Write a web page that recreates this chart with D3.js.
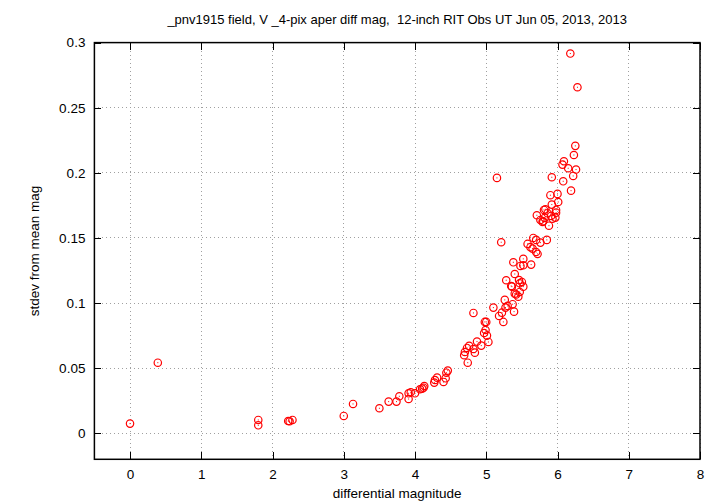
<!DOCTYPE html>
<html><head><meta charset="utf-8">
<script src="https://cdn.jsdelivr.net/npm/d3@7"></script>
<style>
html,body{margin:0;padding:0;background:#fff;}
text{font-family:"Liberation Sans",Arial,Helvetica,sans-serif;fill:#000;white-space:pre;}
</style></head>
<body><svg id="c" width="720" height="504"></svg>
<script>
const titleText = "_pnv1915 field, V _4-pix aper diff mag,  12-inch RIT Obs UT Jun 05, 2013, 2013";
const xLabel = "differential magnitude";
const yLabel = "stdev from mean mag";
const xTicks = [0,1,2,3,4,5,6,7,8];
const yTicks = [0,0.05,0.1,0.15,0.2,0.25,0.3];
const yTickLabels = ["0","0.05","0.1","0.15","0.2","0.25","0.3"];

const diffMag = [
 0.00,0.39,1.80,1.80,2.22,2.24,2.28,3.00,3.13,3.50,3.63,3.74,3.78,3.91,3.91,3.94,4.00,4.07,4.10,4.12,4.13,
 4.27,4.28,4.31,4.40,4.43,4.44,4.46,4.69,4.70,4.74,4.73,4.76,4.82,4.84,4.87,4.93,5.03,4.97,5.01,4.98,5.00,
 4.82,5.10,5.24,5.18,5.22,5.27,5.30,5.37,5.39,5.26,5.28,5.35,5.40,5.42,5.45,5.47,5.47,5.50,5.52,5.40,5.46,
 5.38,5.48,5.52,5.63,5.52,5.15,5.21,5.58,5.62,5.65,5.72,5.70,5.66,5.70,5.76,5.85,5.71,5.76,5.80,5.82,5.88,
 5.93,5.97,5.81,5.83,5.98,5.98,5.92,6.01,5.90,6.00,6.19,6.08,5.92,6.22,6.26,6.15,6.07,6.09,6.23,6.25,6.28,
 6.18,5.86,5.91,5.79,5.36,4.99
];
const stdev = [
 0.0074,0.0542,0.0102,0.0061,0.0094,0.0092,0.0102,0.0133,0.0225,0.0192,0.0243,0.0243,0.0284,0.0263,0.0307,0.0315,0.0307,0.0338,0.0343,0.0350,0.0363,
 0.0389,0.0409,0.0427,0.0394,0.0422,0.0465,0.0481,0.0599,0.0624,0.0542,0.0655,0.0671,0.0647,0.0619,0.0704,0.0673,0.0701,0.0770,0.0750,0.0855,0.0855,
 0.0924,0.0965,0.0855,0.0901,0.0926,0.0965,0.0978,0.0991,0.0934,0.1024,0.1175,0.1131,0.1072,0.1065,0.1049,0.1085,0.1152,0.1162,0.1126,0.1223,0.1177,
 0.1313,0.1285,0.1290,0.1295,0.1339,0.1961,0.1467,0.1454,0.1429,0.1418,0.1377,0.1392,0.1500,0.1485,0.1464,0.1485,0.1674,0.1638,0.1628,0.1654,0.1594,
 0.1648,0.1656,0.1715,0.1720,0.1715,0.1694,0.1756,0.1776,0.1828,0.1838,0.1863,0.1935,0.1966,0.1976,0.2025,0.2035,0.2063,0.2089,0.2137,0.2207,0.2657,
 0.2916,0.1690,0.1669,0.1623,0.1126,0.0793
];

const svg = d3.select("#c");
const L = 94.4, R = 700, T = 42.6, B = 459.3;
const x = d3.scaleLinear().domain([-0.5, 8]).range([L, R]);
const y = d3.scaleLinear().domain([-0.02, 0.3]).range([B, T]);

// grid
const g = svg.append("g");
g.selectAll("line.gx").data(xTicks).join("line")
 .attr("x1", d => x(d)).attr("x2", d => x(d)).attr("y1", T).attr("y2", B)
 .attr("stroke", "#a0a0a0").attr("stroke-width", 1).attr("stroke-dasharray", "1,3")
 .attr("shape-rendering","crispEdges");
g.selectAll("line.gy").data(yTicks).join("line")
 .attr("y1", d => y(d)).attr("y2", d => y(d)).attr("x1", L).attr("x2", R)
 .attr("stroke", "#a0a0a0").attr("stroke-width", 1).attr("stroke-dasharray", "1,3")
 .attr("shape-rendering","crispEdges");

// axes with inward ticks
const fmtY = d => yTickLabels[yTicks.indexOf(d)];
const axB = d3.axisBottom(x).tickValues(xTicks).tickSizeInner(-7).tickSizeOuter(0).tickPadding(10).tickFormat(d3.format("d"));
const axT = d3.axisTop(x).tickValues(xTicks).tickSizeInner(-7).tickSizeOuter(0).tickFormat("");
const axLft = d3.axisLeft(y).tickValues(yTicks).tickSizeInner(-7).tickSizeOuter(0).tickPadding(9).tickFormat(fmtY);
const axRgt = d3.axisRight(y).tickValues(yTicks).tickSizeInner(-7).tickSizeOuter(0).tickFormat("");
function styleAxis(sel){
  sel.select(".domain").remove();
  sel.selectAll(".tick line").attr("stroke","#000").attr("stroke-width",1).attr("shape-rendering","crispEdges");
  sel.selectAll(".tick text").attr("font-size",13.5).attr("font-family","Liberation Sans, Arial, sans-serif").attr("fill","#000");
}
svg.append("g").attr("transform",`translate(0,${B})`).call(axB).call(styleAxis);
svg.append("g").attr("transform",`translate(0,${T})`).call(axT).call(styleAxis);
svg.append("g").attr("transform",`translate(${L},0)`).call(axLft).call(styleAxis);
svg.append("g").attr("transform",`translate(${R},0)`).call(axRgt).call(styleAxis);

// frame
svg.append("rect").attr("x", L).attr("y", T).attr("width", R - L).attr("height", B - T)
 .attr("fill","none").attr("stroke","#000").attr("stroke-width",1.5);

// points
const pts = diffMag.map((m,i)=>({m, s: stdev[i]}));
const pg = svg.append("g");
pg.selectAll("circle.p").data(pts).join("circle")
 .attr("cx", d => x(d.m)).attr("cy", d => y(d.s)).attr("r", 3.7)
 .attr("fill","none").attr("stroke","#ff0000").attr("stroke-width",1.2);
pg.selectAll("rect.c").data(pts).join("rect")
 .attr("x", d => x(d.m)-0.5).attr("y", d => y(d.s)-0.5).attr("width",1).attr("height",1)
 .attr("fill","#ff0000");

// labels
svg.append("text").attr("x", (L+R)/2).attr("y", 24).attr("text-anchor","middle")
 .attr("font-size",13).text(titleText);
svg.append("text").attr("x", (L+R)/2).attr("y", 498).attr("text-anchor","middle")
 .attr("font-size",13.5).text(xLabel);
svg.append("text").attr("transform", `translate(39,${(T+B)/2}) rotate(-90)`).attr("text-anchor","middle")
 .attr("font-size",13.5).text(yLabel);
</script></body></html>
